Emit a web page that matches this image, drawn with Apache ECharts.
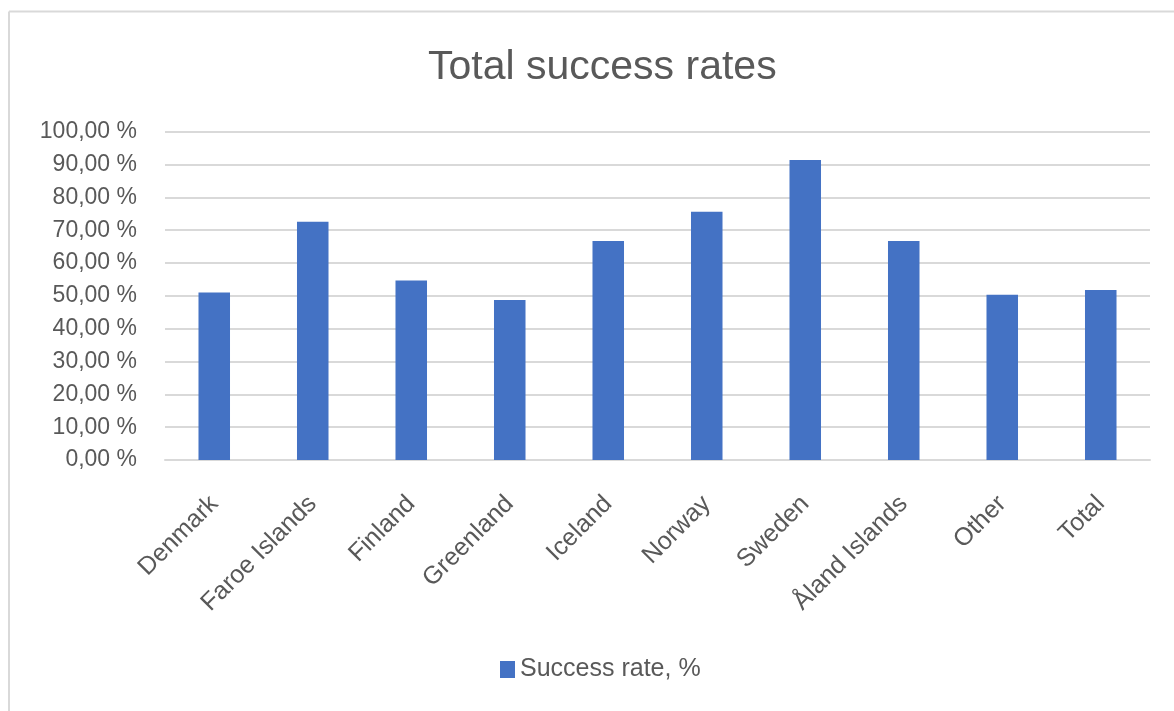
<!DOCTYPE html>
<html>
<head>
<meta charset="utf-8">
<script src="https://cdn.jsdelivr.net/npm/echarts@6/dist/echarts.min.js"></script>
<style>
html,body{margin:0;padding:0;background:#fff;}
#chart{width:1174px;height:711px;}
</style>
</head>
<body>
<div id="chart"></div>
<script>
const categories = ["Denmark","Faroe Islands","Finland","Greenland","Iceland","Norway","Sweden","Åland Islands","Other","Total"];
const successRate = [51.0, 72.6, 54.7, 48.7, 66.7, 75.6, 91.4, 66.7, 50.3, 51.8];
const yTicks = [0,10,20,30,40,50,60,70,80,90,100];
const seriesName = "Success rate, %";
const titleText = "Total success rates";

const chart = echarts.init(document.getElementById('chart'), null, {renderer:'canvas'});
const txt = '#595959';
const font = "'Liberation Sans',Arial,sans-serif";
chart.setOption({
  animation:false,
  backgroundColor:'#fff',
  graphic:[
    {type:'line',shape:{x1:9,y1:11.5,x2:1174,y2:11.5},style:{stroke:'#d9d9d9',lineWidth:2},silent:true},
    {type:'line',shape:{x1:9,y1:11.5,x2:9,y2:711},style:{stroke:'#d9d9d9',lineWidth:2},silent:true}
  ],
  title:{text:titleText,left:423,top:42,textStyle:{color:txt,fontFamily:font,fontWeight:'normal',fontSize:41}},
  legend:{top:652,left:495,itemWidth:15,itemHeight:17,icon:'rect',textStyle:{color:txt,fontFamily:font,fontSize:25},itemGap:8},
  grid:{left:165,right:24,top:131.7,bottom:251,containLabel:false},
  xAxis:{type:'category',data:categories,
    axisLine:{lineStyle:{color:'#d9d9d9',width:2}},axisTick:{show:false},
    axisLabel:{rotate:45,color:txt,fontFamily:font,fontSize:25,margin:40,interval:0}},
  yAxis:{type:'value',min:yTicks[0],max:yTicks[yTicks.length-1],interval:10,
    axisLine:{show:false},axisTick:{show:false},
    splitLine:{lineStyle:{color:'#d9d9d9',width:2}},
    axisLabel:{color:txt,fontFamily:font,fontSize:23,margin:28,
      formatter:v=>v.toFixed(2).replace('.',',')+' %'}},
  series:[{name:seriesName,type:'bar',data:successRate,barWidth:'32%',itemStyle:{color:'#4472C4'}}]
});
</script>
</body>
</html>
